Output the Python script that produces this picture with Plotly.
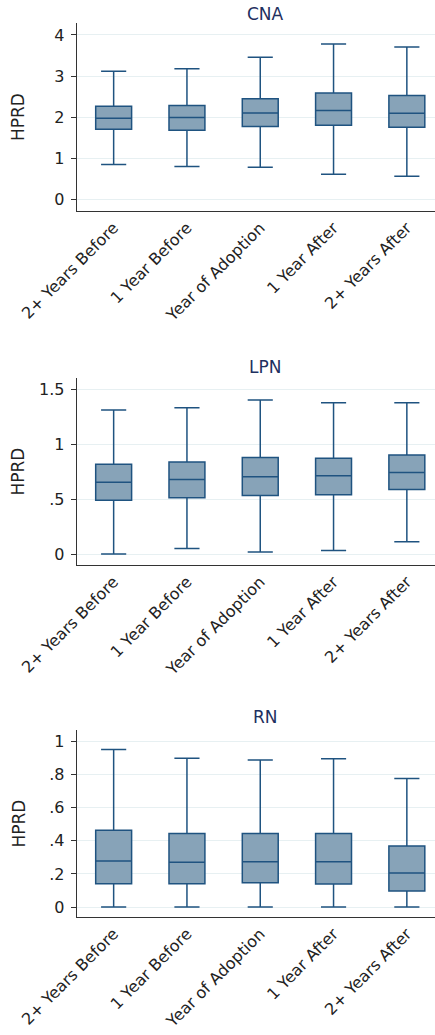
import plotly.graph_objects as go

categories = ["2+ Years Before", "1 Year Before", "Year of Adoption", "1 Year After", "2+ Years After"]

cna_low = [0.86, 0.81, 0.79, 0.62, 0.57]
cna_q1 = [1.71, 1.69, 1.78, 1.81, 1.76]
cna_med = [1.98, 2.00, 2.11, 2.17, 2.10]
cna_q3 = [2.27, 2.29, 2.45, 2.59, 2.53]
cna_high = [3.12, 3.18, 3.46, 3.78, 3.71]

lpn_low = [0.006, 0.057, 0.024, 0.039, 0.117]
lpn_q1 = [0.494, 0.515, 0.536, 0.542, 0.59]
lpn_med = [0.657, 0.68, 0.705, 0.714, 0.744]
lpn_q3 = [0.82, 0.84, 0.88, 0.873, 0.904]
lpn_high = [1.31, 1.33, 1.40, 1.376, 1.376]

rn_low = [0.0, 0.0, 0.0, 0.0, 0.0]
rn_q1 = [0.141, 0.141, 0.147, 0.139, 0.097]
rn_med = [0.278, 0.27, 0.274, 0.274, 0.206]
rn_q3 = [0.464, 0.444, 0.444, 0.444, 0.369]
rn_high = [0.95, 0.897, 0.887, 0.895, 0.776]

titles = ["CNA", "LPN", "RN"]
ytitle = "HPRD"
cna_ticks = [0, 1, 2, 3, 4]
cna_ticktext = ["0", "1", "2", "3", "4"]
lpn_ticks = [0, 0.5, 1, 1.5]
lpn_ticktext = ["0", ".5", "1", "1.5"]
rn_ticks = [0, 0.2, 0.4, 0.6, 0.8, 1]
rn_ticktext = ["0", ".2", ".4", ".6", ".8", "1"]

W, H = 435, 1035
FONT = "DejaVu Sans"
LINE = "#1f5380"
FILL = "#87a3b8"
GRID = "#e7f0f2"
AXIS = "#333333"

panels = [
    dict(low=cna_low, q1=cna_q1, med=cna_med, q3=cna_q3, high=cna_high,
         ticks=cna_ticks, text=cna_ticktext, rng=[-0.27, 4.29], top=23, bottom=211, ty=13.5),
    dict(low=lpn_low, q1=lpn_q1, med=lpn_med, q3=lpn_q3, high=lpn_high,
         ticks=lpn_ticks, text=lpn_ticktext, rng=[-0.093, 1.6], top=378, bottom=565, ty=367),
    dict(low=rn_low, q1=rn_q1, med=rn_med, q3=rn_q3, high=rn_high,
         ticks=rn_ticks, text=rn_ticktext, rng=[-0.06, 1.068], top=730, bottom=917, ty=717),
]


def px_x(x):
    return x / W


def px_y(y):
    return 1 - y / H


fig = go.Figure()
x_left = 77
layout = dict(width=W, height=H, margin=dict(l=0, r=0, t=0, b=0, autoexpand=False),
              paper_bgcolor="white", plot_bgcolor="white", showlegend=False,
              font=dict(family=FONT, color="#222222"))
annotations = []
for i, p in enumerate(panels):
    n = "" if i == 0 else str(i + 1)
    fig.add_trace(go.Box(
        x=categories, q1=p["q1"], median=p["med"], q3=p["q3"],
        lowerfence=p["low"], upperfence=p["high"],
        xaxis="x" + n, yaxis="y" + n,
        width=0.49, whiskerwidth=0.7,
        fillcolor=FILL, line=dict(color=LINE, width=1.5),
        boxpoints=False, hoverinfo="skip"))
    dom_y = [px_y(p["bottom"]), px_y(p["top"])]
    layout["xaxis" + n] = dict(
        domain=[px_x(x_left), 1], anchor="y" + n, type="category", automargin=False,
        range=[-0.5, 4.384], showline=True, linecolor=AXIS, linewidth=1.3,
        ticks="", tickangle=-45, showgrid=False, zeroline=False,
        tickfont=dict(family=FONT, size=16, color="#222222"))
    layout["yaxis" + n] = dict(
        domain=dom_y, anchor="x" + n, range=p["rng"], automargin=False,
        tickvals=p["ticks"], ticktext=p["text"],
        showline=True, linecolor=AXIS, linewidth=1.3,
        ticks="outside", ticklen=5, tickcolor=AXIS, ticklabelstandoff=3,
        showgrid=True, gridcolor=GRID, gridwidth=1, zeroline=False,
        tickfont=dict(family=FONT, size=16, color="#222222"))
    annotations.append(dict(text=titles[i], x=px_x(265), y=px_y(p["ty"]),
                            xref="paper", yref="paper", showarrow=False,
                            xanchor="center", yanchor="middle",
                            font=dict(family=FONT, size=17, color="#1e3060")))
    annotations.append(dict(text=ytitle, x=px_x(18), y=px_y((p["top"] + p["bottom"]) / 2),
                            xref="paper", yref="paper", showarrow=False, textangle=-90,
                            xanchor="center", yanchor="middle",
                            font=dict(family=FONT, size=17, color="#222222")))
layout["annotations"] = annotations
fig.update_layout(**layout)
fig.write_html("out.html", config={"displayModeBar": False, "staticPlot": True},
               post_script="document.body.style.margin='0px';document.body.style.overflow='hidden';")
